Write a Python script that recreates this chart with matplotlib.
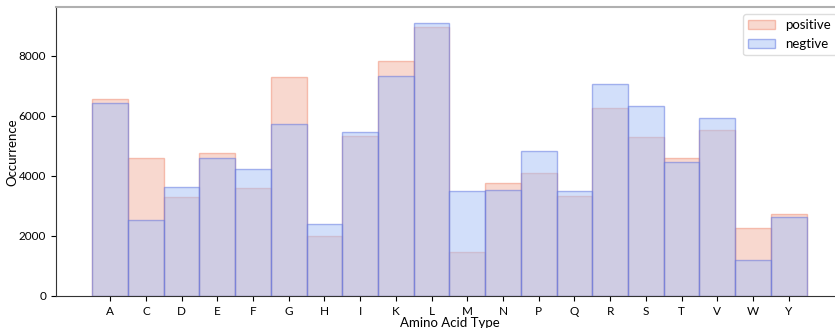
import matplotlib.pyplot as plt
import numpy as np

plt.rcParams['font.family'] = ['Lato', 'DejaVu Sans']

amino_acids = ['A', 'C', 'D', 'E', 'F', 'G', 'H', 'I', 'K', 'L',
               'M', 'N', 'P', 'Q', 'R', 'S', 'T', 'V', 'W', 'Y']
positive = [6555, 4585, 3280, 4750, 3590, 7275, 1980, 5315, 7807, 8937,
            1450, 3743, 4076, 3312, 6269, 5293, 4585, 5538, 2259, 2724]
negative = [6430, 2515, 3610, 4575, 4230, 5735, 2380, 5470, 7320, 9093,
            3478, 3533, 4827, 3510, 7043, 6335, 4475, 5914, 1186, 2614]

x = np.arange(len(amino_acids))

fig = plt.figure(figsize=(8.35, 3.28), dpi=100)
ax = fig.add_axes([0.067, 0.0976, 0.9425, 0.8796])

ax.bar(x, positive, width=1.0, color='#f3b3a1', edgecolor='#f08a70',
       linewidth=1, alpha=0.5, label='positive')
ax.bar(x, negative, width=1.0, color='#a7c1f7', edgecolor='#5a70e0',
       linewidth=1, alpha=0.5, label='negtive')

ax.set_xticks(x)
ax.set_xticklabels(amino_acids, fontsize=8.5)
ax.set_yticks([0, 2000, 4000, 6000, 8000])
ax.tick_params(axis='y', labelsize=8.5)
ax.set_xlim(-1.52, 20.52)
ax.set_ylim(0, 9600)

ax.set_xlabel('Amino Acid Type', fontsize=9.5, labelpad=0)
ax.set_ylabel('Occurrence', fontsize=9.5, labelpad=0)

ax.spines['top'].set_color('#b0b0b0')
ax.spines['top'].set_linewidth(1.5)
ax.spines['right'].set_visible(False)
for s in ['left', 'bottom']:
    ax.spines[s].set_color('#333333')

ax.legend(loc='upper right', fontsize=9.5, framealpha=1, edgecolor='#dddddd',
          handlelength=2.0)

fig.savefig('out.png', dpi=100)
